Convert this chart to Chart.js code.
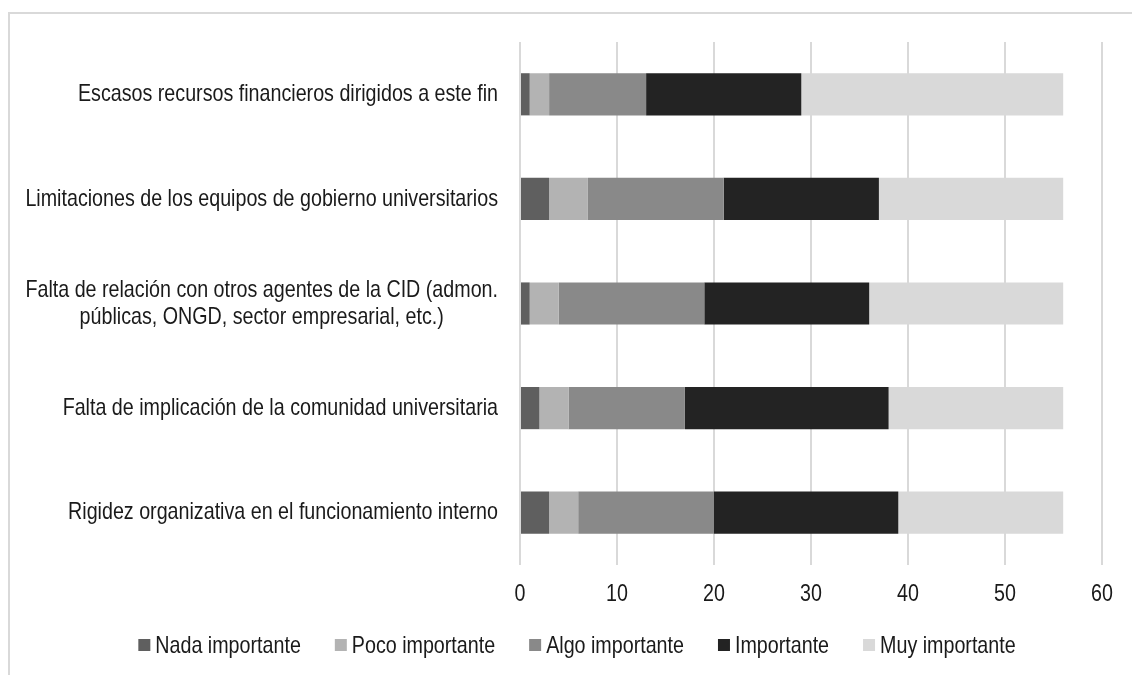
<!DOCTYPE html>
<html>
<head>
<meta charset="utf-8">
<script src="https://cdn.jsdelivr.net/npm/chart.js@4/dist/chart.umd.min.js"></script>
<style>
  html, body { margin: 0; padding: 0; background: #ffffff; overflow: hidden; }
  #wrap { position: relative; width: 1132px; height: 675px; }
  #frame { position: absolute; left: 8px; top: 12px; width: 1200px; height: 700px;
           border-top: 2px solid #d9d9d9; border-left: 2px solid #d9d9d9; pointer-events: none; }
  canvas { position: absolute; left: 0; top: 0; }
</style>
</head>
<body>
<div id="wrap">
  <canvas id="c" width="1132" height="675"></canvas>
  <div id="frame"></div>
</div>
<script>
const categories = [
  'Escasos recursos financieros dirigidos a este fin',
  'Limitaciones de los equipos de gobierno universitarios',
  ['Falta de relación con otros agentes de la CID (admon.', 'públicas, ONGD, sector empresarial, etc.)'],
  'Falta de implicación de la comunidad universitaria',
  'Rigidez organizativa en el funcionamiento interno'
];
const seriesNames = ['Nada importante', 'Poco importante', 'Algo importante', 'Importante', 'Muy importante'];
const nadaImportante  = [1, 3, 1, 2, 3];
const pocoImportante  = [2, 4, 3, 3, 3];
const algoImportante  = [10, 14, 15, 12, 14];
const importante      = [16, 16, 17, 21, 19];
const muyImportante   = [27, 19, 20, 18, 17];
const xTicks = [0, 10, 20, 30, 40, 50, 60];

const seriesColors = ['#5f5f5f', '#b3b3b3', '#898989', '#232323', '#d9d9d9'];
const FONT = "'Liberation Sans', Arial, sans-serif";
const NARROW = 0.82;
const TEXT = '#1a1a1a';

const allSeries = [nadaImportante, pocoImportante, algoImportante, importante, muyImportante];

function narrowText(ctx, str, x, y, align) {
  // draw text condensed horizontally (Arial Narrow look)
  const w = ctx.measureText(str).width * NARROW;
  let left = x;
  if (align === 'center') left = x - w / 2;
  else if (align === 'right') left = x - w;
  ctx.save();
  ctx.translate(left, y);
  ctx.scale(NARROW, 1);
  ctx.textAlign = 'left';
  ctx.fillText(str, 0, 0);
  ctx.restore();
  return w;
}

const textPlugin = {
  id: 'narrowTexts',
  afterDraw(chart) {
    const ctx = chart.ctx;
    const ys = chart.scales.y;
    const xs = chart.scales.x;
    ctx.save();
    ctx.font = '24px ' + FONT;
    ctx.fillStyle = TEXT;
    ctx.textBaseline = 'middle';

    // category labels (right aligned block, lines centred within block)
    const rightX = 498, lh = 27;
    categories.forEach((lab, i) => {
      const lines = Array.isArray(lab) ? lab : [lab];
      const w = Math.max(...lines.map(l => ctx.measureText(l).width * NARROW));
      const cx = rightX - w / 2;
      const cy = ys.getPixelForTick(i);
      const start = cy - (lines.length - 1) * lh / 2;
      lines.forEach((l, k) => narrowText(ctx, l, cx, start + k * lh, 'center'));
    });

    // x tick labels
    xs.ticks.forEach(t => {
      narrowText(ctx, String(t.value), xs.getPixelForValue(t.value), 594, 'center');
    });

    // legend
    const box = 12, gapBT = 5, gapItem = 34, legY = 645, legCenter = 577;
    const widths = chart.data.datasets.map(d => ctx.measureText(d.label).width * NARROW);
    const total = widths.reduce((a, b) => a + b, 0) + widths.length * (box + gapBT) + (widths.length - 1) * gapItem;
    let x = legCenter - total / 2;
    chart.data.datasets.forEach((d, i) => {
      ctx.fillStyle = d.backgroundColor;
      ctx.fillRect(x, legY - box / 2, box, box);
      x += box + gapBT;
      ctx.fillStyle = TEXT;
      narrowText(ctx, d.label, x, legY + 1, 'left');
      x += widths[i] + gapItem;
    });
    ctx.restore();
  }
};

new Chart(document.getElementById('c'), {
  type: 'bar',
  data: {
    labels: categories,
    datasets: seriesNames.map((n, i) => ({
      label: n,
      data: allSeries[i],
      backgroundColor: seriesColors[i],
      borderWidth: 0,
      barPercentage: 0.403,
      categoryPercentage: 1.0
    }))
  },
  options: {
    indexAxis: 'y',
    responsive: false,
    animation: false,
    events: [],
    layout: { padding: { top: 42, right: 30, bottom: 110, left: 0 } },
    scales: {
      x: {
        stacked: true,
        min: 0, max: 60,
        afterBuildTicks(s) { s.ticks = xTicks.map(v => ({ value: v })); },
        grid: { color: '#d9d9d9', lineWidth: 2, drawTicks: false },
        border: { display: false },
        ticks: { display: false }
      },
      y: {
        stacked: true,
        grid: { display: false },
        border: { display: false },
        ticks: { display: false },
        afterFit(s) { s.width = 520; }
      }
    },
    plugins: {
      legend: { display: false },
      tooltip: { enabled: false }
    }
  },
  plugins: [textPlugin]
});
</script>
</body>
</html>
